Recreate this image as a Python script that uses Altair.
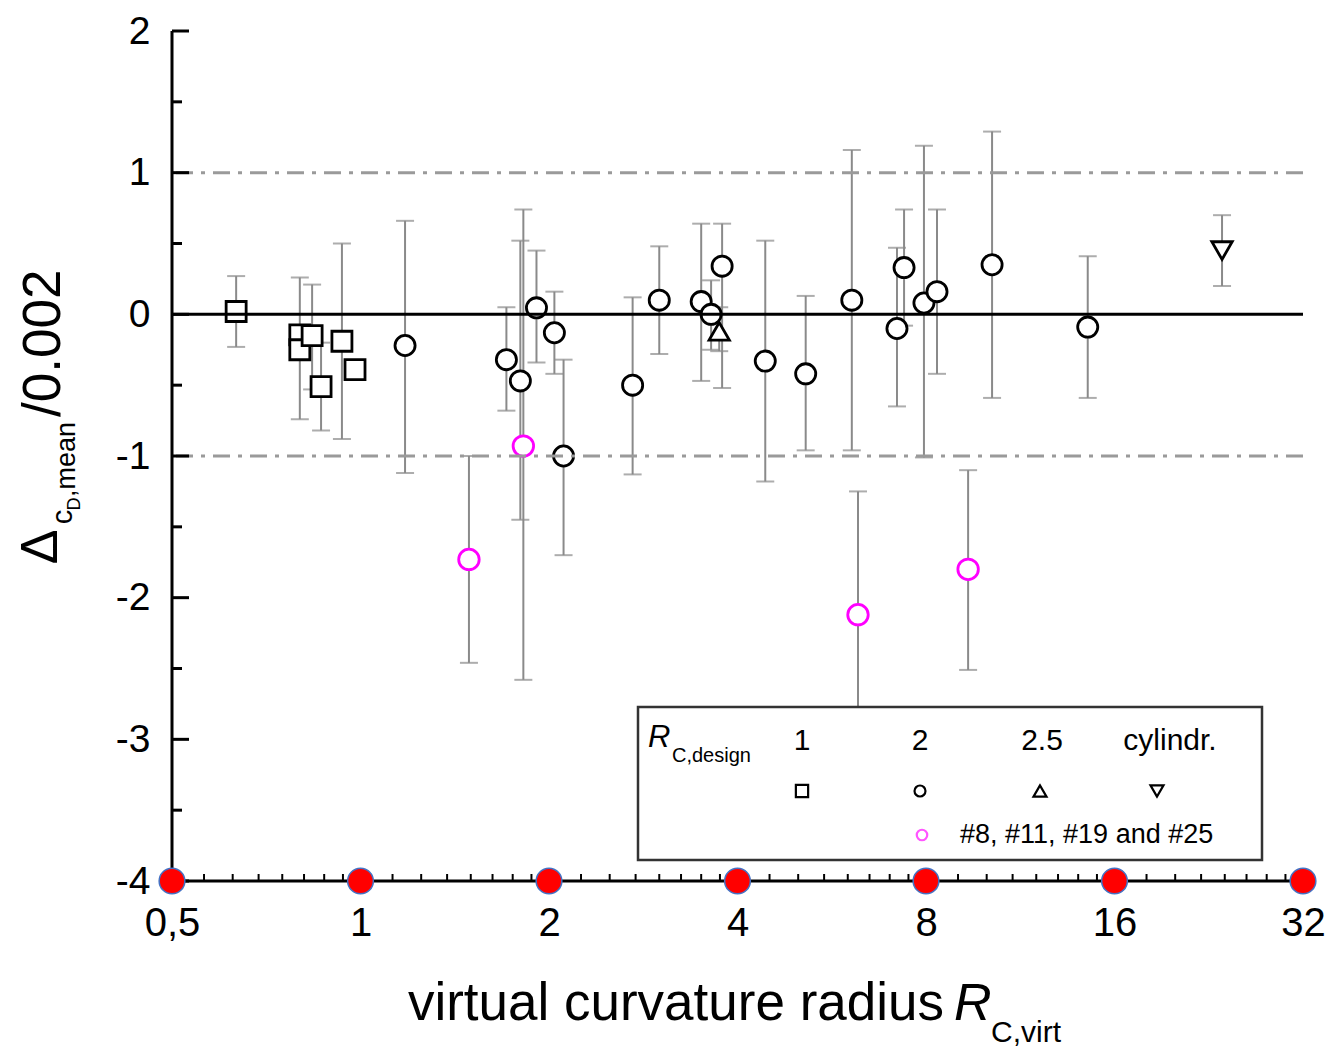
import altair as alt
import pandas as pd

# ---------------- data ----------------
# R_C,design = 1 (squares)
sq_x = [0.633, 0.80, 0.80, 0.837, 0.865, 0.934, 0.98]
sq_y = [0.02, -0.145, -0.25, -0.15, -0.51, -0.19, -0.39]
sq_lo = [-0.23, -0.74, -0.31, -0.53, -0.82, -0.88, -0.45]
sq_hi = [0.27, 0.26, -0.19, 0.21, -0.20, 0.50, -0.33]

# R_C,design = 2 (circles)
ci_x = [1.178, 1.71, 1.80, 1.91, 2.04, 2.11, 2.72, 3.0, 3.50, 3.63, 3.78,
        4.43, 5.14, 6.09, 7.19, 7.38, 7.94, 8.33, 10.2, 14.5]
ci_y = [-0.22, -0.32, -0.47, 0.046, -0.13, -1.0, -0.50, 0.10, 0.09, 0.0, 0.34,
        -0.33, -0.42, 0.10, -0.10, 0.33, 0.08, 0.16, 0.35, -0.09]
ci_lo = [-1.12, -0.68, -1.45, -0.34, -0.42, -1.70, -1.13, -0.28, -0.47, -0.25, -0.52,
         -1.18, -0.96, -0.96, -0.65, -0.08, -1.01, -0.42, -0.59, -0.59]
ci_hi = [0.66, 0.05, 0.52, 0.45, 0.16, -0.32, 0.12, 0.48, 0.64, 0.24, 0.64,
         0.52, 0.13, 1.16, 0.47, 0.74, 1.19, 0.74, 1.29, 0.41]

# R_C,design = 2.5 (triangle up)
tr_x = [3.74]
tr_y = [-0.12]
tr_lo = [-0.26]
tr_hi = [0.05]

# cylindrical (triangle down)
cy_x = [23.76]
cy_y = [0.45]
cy_lo = [0.20]
cy_hi = [0.70]

# #8, #11, #19 and #25 (magenta circles)
mg_x = [1.49, 1.82, 6.23, 9.34]
mg_y = [-1.73, -0.93, -2.12, -1.80]
mg_lo = [-2.46, -2.58, -3.0, -2.51]
mg_hi = [-1.0, 0.74, -1.25, -1.10]

groups = ["1", "2", "2.5", "cylindr.", "special"]
x_ticks = [0.5, 1, 2, 4, 8, 16, 32]
y_ticks = [-4, -3, -2, -1, 0, 1, 2]
ref_dashed = [-1, 1]
ref_zero = [0]

legend_header = ["1", "2", "2.5", "cylindr."]
legend_note = "#8, #11, #19 and #25"

# ---------------- tables ----------------
rows = []
for g, xs, ys, los, his in [
    ("1", sq_x, sq_y, sq_lo, sq_hi),
    ("2", ci_x, ci_y, ci_lo, ci_hi),
    ("2.5", tr_x, tr_y, tr_lo, tr_hi),
    ("cylindr.", cy_x, cy_y, cy_lo, cy_hi),
    ("special", mg_x, mg_y, mg_lo, mg_hi),
]:
    for a, b, c, d in zip(xs, ys, los, his):
        rows.append({"g": g, "x": a, "y": b, "lo": c, "hi": d})
df = pd.DataFrame(rows)

minor_x = []
for base in x_ticks[:-1]:
    for k in range(1, 8):
        minor_x.append(base * (1 + k / 8))
minor_y = [v + 0.5 for v in y_ticks[:-1]]

W, H = 1131, 850
FONT = "Liberation Sans"

xscale = alt.Scale(type="log", base=2, domain=[0.5, 32], nice=False)
yscale = alt.Scale(domain=[-4, 2], nice=False, zero=False)
xaxis = alt.Axis(values=x_ticks, format="~g", labelExpr="replace(datum.label, '.', ',')",
                 ticks=False, domain=False, grid=False, labelFontSize=40, labelFont=FONT,
                 labelColor="black", labelPadding=22, labelFlush=False, labelOverlap=False,
                 labelBound=False, title=None)
yaxis = alt.Axis(values=y_ticks, ticks=False, domain=False, grid=False,
                 labelExpr="datum.value < 0 ? '-' + abs(datum.value) : '' + datum.value",
                 labelFontSize=39, labelFont=FONT, labelColor="black", labelPadding=22,
                 labelFlush=False, labelOverlap=False, title=None)


def X(field="x"):
    return alt.X(f"{field}:Q", scale=xscale, axis=xaxis)


def Y(field="y"):
    return alt.Y(f"{field}:Q", scale=yscale, axis=yaxis)


shape_scale = alt.Scale(domain=groups,
                        range=["square", "circle", "triangle-up", "triangle-down", "circle"])
stroke_scale = alt.Scale(domain=groups,
                         range=["black", "black", "black", "black", "#ff00ff"])
size_scale = alt.Scale(domain=groups, range=[400, 420, 340, 440, 380])

base = alt.Chart(df)

err = base.mark_rule(color="#8a8a8a", strokeWidth=2).encode(x=X(), y=Y("lo"), y2="hi:Q")
cap_lo = base.mark_tick(color="#8a8a8a", orient="horizontal", size=18, thickness=2).encode(
    x=X(), y=Y("lo"))
cap_hi = base.mark_tick(color="#8a8a8a", orient="horizontal", size=18, thickness=2).encode(
    x=X(), y=Y("hi"))
pts = base.mark_point(filled=False, fill="white", fillOpacity=1, strokeWidth=2.8, opacity=1).encode(
    x=X(), y=Y(),
    shape=alt.Shape("g:N", scale=shape_scale, legend=None),
    stroke=alt.Stroke("g:N", scale=stroke_scale, legend=None),
    size=alt.Size("g:N", scale=size_scale, legend=None),
)

zero_line = alt.Chart(pd.DataFrame({"y": ref_zero})).mark_rule(
    color="black", strokeWidth=3).encode(y=Y())
dash_lines = alt.Chart(pd.DataFrame({"y": ref_dashed})).mark_rule(
    color="#9a9a9a", strokeWidth=3, strokeDash=[17, 8, 4, 8]).encode(y=Y())

# axes drawn by hand (ticks point inward)
y_domain = alt.Chart(pd.DataFrame({"y": [2]})).mark_rule(color="black", strokeWidth=3).encode(
    x=alt.value(0), y=alt.value(0), y2=alt.value(H))
x_domain = alt.Chart(pd.DataFrame({"y": [-4]})).mark_rule(color="black", strokeWidth=3).encode(
    y=alt.value(H), x=alt.value(0), x2=alt.value(W))
y_major = alt.Chart(pd.DataFrame({"y": y_ticks})).mark_rule(color="black", strokeWidth=3).encode(
    y=Y(), x=alt.value(0), x2=alt.value(17))
y_minor = alt.Chart(pd.DataFrame({"y": minor_y})).mark_rule(color="black", strokeWidth=3).encode(
    y=Y(), x=alt.value(0), x2=alt.value(10))
x_minor = alt.Chart(pd.DataFrame({"x": minor_x})).mark_rule(color="black", strokeWidth=2).encode(
    x=X(), y=alt.value(H - 7), y2=alt.value(H))
red_dots = alt.Chart(pd.DataFrame({"x": x_ticks, "y": [-4] * len(x_ticks)})).mark_point(
    shape="circle", filled=True, fill="#ff0000", stroke="#4472c4", strokeWidth=1.5,
    size=660, opacity=1, fillOpacity=1).encode(x=X(), y=Y())

one = pd.DataFrame({"a": [0]})


def txt(s, x, y, size, angle=0, align="left", baseline="alphabetic", style="normal", color="black"):
    return alt.Chart(one).mark_text(
        text=s, font=FONT, fontSize=size, angle=angle, align=align, baseline=baseline,
        fontStyle=style, color=color).encode(x=alt.value(x), y=alt.value(y))


# legend box
leg_box = alt.Chart(one).mark_rect(fill="white", stroke="#333333", strokeWidth=2.5).encode(
    x=alt.value(466), x2=alt.value(1090), y=alt.value(676), y2=alt.value(829))
leg_layers = [leg_box,
              txt("R", 476, 716, 31, style="italic"),
              txt("C,design", 500, 731, 20)]
head_px = [630, 748, 870, 998]
sym_px = [630, 748, 868, 985]
sym_shapes = ["square", "circle", "triangle-up", "triangle-down"]
sym_sizes = [150, 120, 170, 170]
for lab, hx in zip(legend_header, head_px):
    leg_layers.append(txt(lab, hx, 719, 30, align="center"))
for shp, sx, ss in zip(sym_shapes, sym_px, sym_sizes):
    leg_layers.append(alt.Chart(one).mark_point(
        shape=shp, filled=False, stroke="black", strokeWidth=2.2, size=ss, opacity=1).encode(
        x=alt.value(sx), y=alt.value(760)))
leg_layers.append(alt.Chart(one).mark_point(
    shape="circle", filled=False, stroke="#ff55ff", strokeWidth=2.2, size=110, opacity=1).encode(
    x=alt.value(750), y=alt.value(804)))
leg_layers.append(txt(legend_note, 788, 804, 27, baseline="middle"))

# axis titles
titles = [
    txt("virtual curvature radius", 772, 989, 53, align="right"),
    txt("R", 782, 989, 52, style="italic"),
    txt("C,virt", 819, 1011, 30),
    txt("\u0394", -115, 516, 52, angle=270, align="center"),
    txt("c", -100, 486, 29, angle=270, align="center"),
    txt("D", -92, 473, 18, angle=270, align="center"),
    txt(",mean", -97, 466, 27, angle=270, align="left"),
    txt("/0.002", -112, 386, 53, angle=270, align="left"),
]

chart = alt.layer(
    err, cap_lo, cap_hi, pts, zero_line, dash_lines,
    y_domain, x_domain, y_major, y_minor, x_minor, red_dots,
    *leg_layers, *titles
).properties(
    width=W, height=H,
    autosize=alt.AutoSizeParams(type="none"),
    padding={"left": 172, "top": 31, "right": 27, "bottom": 166},
    background="white",
).configure_view(stroke=None, clip=False)

chart.save("out.html", embed_options={"renderer": "svg", "actions": False})
